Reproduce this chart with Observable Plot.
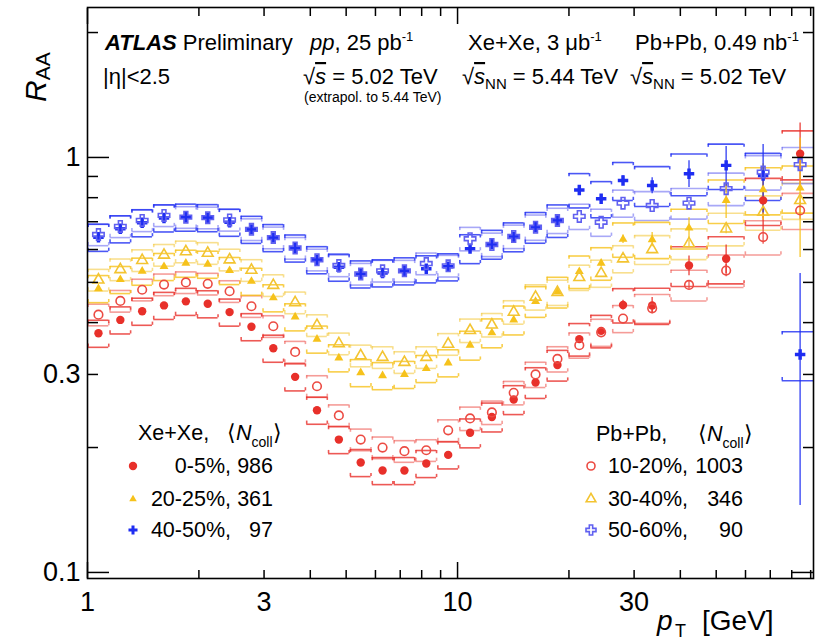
<!DOCTYPE html>
<html><head><meta charset="utf-8">
<script src="https://cdn.jsdelivr.net/npm/d3@7"></script>
<script src="https://cdn.jsdelivr.net/npm/@observablehq/plot@0.6"></script>
<style>
html,body{margin:0;padding:0;background:#fff;}
svg{display:block}
</style>
</head><body><div id="chart"></div>
<script>
// ---- pT bin edges (GeV) ----
const ptEdges = [1.0, 1.146, 1.313, 1.504, 1.723, 1.974, 2.262, 2.591, 2.969, 3.401, 3.896, 4.464, 5.114, 5.859, 6.713, 7.691, 8.811, 10.1, 11.57, 13.25, 15.18, 17.39, 19.93, 22.83, 26.16, 29.97, 37.6, 47.4, 59.7, 75.1, 94.6];

// ---- R_AA values ----
const xe0_5   = [0.377, 0.406, 0.426, 0.440, 0.450, 0.444, 0.424, 0.391, 0.347, 0.296, 0.246, 0.209, 0.184, 0.176, 0.176, 0.183, 0.192, 0.217, 0.237, 0.261, 0.287, 0.316, 0.365, 0.382, 0.441, 0.440, 0.549, 0.570, 0.788, 1.021];
const pb10_20 = [0.418, 0.451, 0.480, 0.494, 0.500, 0.496, 0.476, 0.438, 0.392, 0.340, 0.281, 0.239, 0.209, 0.200, 0.196, 0.197, 0.220, 0.235, 0.243, 0.271, 0.300, 0.327, 0.353, 0.379, 0.409, 0.433, 0.493, 0.534, 0.643, 0.745];
const xe20_25 = [0.483, 0.508, 0.532, 0.546, 0.556, 0.553, 0.534, 0.503, 0.459, 0.413, 0.365, 0.329, 0.303, 0.298, 0.300, 0.310, 0.320, 0.353, 0.378, 0.406, 0.450, 0.474, 0.531, 0.556, 0.635, 0.634, 0.676, 0.788, 0.836, 0.844];
const pb30_40 = [0.507, 0.537, 0.565, 0.582, 0.593, 0.588, 0.567, 0.535, 0.492, 0.447, 0.394, 0.356, 0.333, 0.330, 0.321, 0.330, 0.355, 0.383, 0.395, 0.424, 0.461, 0.473, 0.514, 0.526, 0.570, 0.600, 0.620, 0.673, 0.738, 0.788];
const xe40_50 = [0.642, 0.673, 0.696, 0.715, 0.718, 0.716, 0.698, 0.671, 0.641, 0.605, 0.567, 0.544, 0.524, 0.527, 0.533, 0.539, 0.545, 0.603, 0.618, 0.644, 0.679, 0.705, 0.835, 0.795, 0.880, 0.856, 0.914, 0.957, 0.905, 0.335];
const pb50_60 = [0.652, 0.682, 0.705, 0.725, 0.718, 0.716, 0.707, 0.671, 0.641, 0.605, 0.567, 0.549, 0.524, 0.533, 0.533, 0.555, 0.548, 0.637, 0.617, 0.645, 0.679, 0.705, 0.721, 0.698, 0.776, 0.766, 0.776, 0.841, 0.922, 0.961];

// ---- relative systematic uncertainties ----
const sysXe0_5   = [0.075, 0.075, 0.075, 0.075, 0.075, 0.075, 0.075, 0.075, 0.075, 0.075, 0.075, 0.075, 0.075, 0.075, 0.075, 0.075, 0.075, 0.08, 0.08, 0.08, 0.085, 0.085, 0.09, 0.09, 0.095, 0.10, 0.11, 0.13, 0.13, 0.135];
const sysPb10_20 = [0.06, 0.06, 0.06, 0.06, 0.06, 0.06, 0.06, 0.06, 0.06, 0.06, 0.06, 0.06, 0.06, 0.06, 0.06, 0.06, 0.06, 0.065, 0.065, 0.065, 0.07, 0.07, 0.07, 0.075, 0.075, 0.08, 0.085, 0.09, 0.095, 0.10];
const sysXe20_25 = [0.075, 0.075, 0.075, 0.075, 0.075, 0.075, 0.075, 0.075, 0.075, 0.075, 0.075, 0.075, 0.075, 0.075, 0.075, 0.075, 0.075, 0.08, 0.08, 0.08, 0.085, 0.085, 0.09, 0.09, 0.095, 0.10, 0.11, 0.12, 0.13, 0.13];
const sysPb30_40 = [0.06, 0.06, 0.06, 0.06, 0.06, 0.06, 0.06, 0.06, 0.06, 0.06, 0.06, 0.06, 0.06, 0.06, 0.06, 0.06, 0.06, 0.065, 0.065, 0.065, 0.07, 0.07, 0.07, 0.075, 0.075, 0.08, 0.085, 0.09, 0.095, 0.10];
const sysXe40_50 = [0.075, 0.075, 0.075, 0.075, 0.075, 0.075, 0.075, 0.075, 0.075, 0.075, 0.075, 0.075, 0.075, 0.075, 0.075, 0.075, 0.075, 0.08, 0.08, 0.08, 0.085, 0.09, 0.095, 0.10, 0.105, 0.11, 0.115, 0.125, 0.13, 0.135];
const sysPb50_60 = [0.06, 0.06, 0.06, 0.06, 0.06, 0.06, 0.06, 0.06, 0.06, 0.06, 0.06, 0.06, 0.06, 0.06, 0.06, 0.06, 0.06, 0.065, 0.065, 0.065, 0.07, 0.07, 0.07, 0.075, 0.075, 0.08, 0.085, 0.09, 0.095, 0.10];

// ---- absolute statistical uncertainties ----
const statXe0_5   = [0,0,0,0,0,0,0,0,0,0,0,0,0,0,0,0,0,0,0,0,0,0,0,0, 0.012, 0.02, 0.03, 0.045, 0.12, 0.19];
const statPb10_20 = [0,0,0,0,0,0,0,0,0,0,0,0,0,0,0,0,0,0,0,0,0,0,0,0, 0, 0.01, 0.012, 0.018, 0.025, 0.035];
const statXe20_25 = [0,0,0,0,0,0,0,0,0,0,0,0,0,0,0,0,0,0,0,0,0,0,0, 0.01, 0.015, 0.025, 0.04, 0.075, 0.13, 0.27];
const statPb30_40 = [0,0,0,0,0,0,0,0,0,0,0,0,0,0,0,0,0,0,0,0,0,0,0,0, 0, 0, 0.012, 0.018, 0.025, 0.035];
const statXe40_50 = [0,0,0,0,0,0,0,0,0,0,0,0,0,0,0,0,0,0,0,0,0,0, 0.015, 0.018, 0.024, 0.038, 0.068, 0.105, 0.17, 0.19];
const statPb50_60 = [0,0,0,0,0,0,0,0,0,0,0,0,0,0,0,0,0,0,0,0,0,0,0,0, 0, 0, 0.012, 0.018, 0.025, 0.03];

// ---- legend texts ----
const xeLabels = ["0-5%,", "20-25%,", "40-50%,"];
const xeNcoll  = ["986", "361", "97"];
const pbLabels = ["10-20%,", "30-40%,", "50-60%,"];
const pbNcoll  = ["1003", "346", "90"];

// ---- axis ticks ----
const xMajor = [1, 10];
const xMinor = [2, 3, 4, 5, 6, 7, 8, 9, 20, 30, 40, 50, 60, 70, 80, 90];
const xLabels = [1, 3, 10, 30];
const yMajor = [0.1, 1];
const yMinor = [0.2, 0.3, 0.4, 0.5, 0.6, 0.7, 0.8, 0.9, 2];
const yLabels = [0.1, 0.3, 1];

const RED = "#e8302a", YEL = "#f6c21b", BLU = "#1e2df2";
const RED_O = "#ec4b43", YEL_O = "#f3c431", BLU_O = "#6060f0";

const seriesList = [
  {values: pb10_20, sys: sysPb10_20, stat: statPb10_20, color: RED_O, open: true, symbol: "circle", r: 4.3},
  {values: pb30_40, sys: sysPb30_40, stat: statPb30_40, color: YEL_O, open: true, symbol: "triangle", r: 4.0},
  {values: pb50_60, sys: sysPb50_60, stat: statPb50_60, color: BLU_O, open: true, symbol: "cross", r: 4.8},
  {values: xe0_5,   sys: sysXe0_5,   stat: statXe0_5,   color: RED, open: false, symbol: "circle", r: 4.2},
  {values: xe20_25, sys: sysXe20_25, stat: statXe20_25, color: YEL, open: false, symbol: "triangle", r: 3.3},
  {values: xe40_50, sys: sysXe40_50, stat: statXe40_50, color: BLU, open: false, symbol: "cross", r: 4.4}
];

const TICK = 1.018;   // bracket end length (log factor)
const INSET = 1.004;  // small horizontal inset of brackets

const rowsOf = s => s.values.map((v, i) => ({
  v, lo: ptEdges[i], hi: ptEdges[i + 1], pt: Math.sqrt(ptEdges[i] * ptEdges[i + 1]),
  sys: s.sys[i], stat: s.stat[i]
}));

const boxMarks = [], statMarks = [], openDots = [], filledDots = [];
for (const s of seriesList) {
  const rows = rowsOf(s);
  const top = d => d.v * (1 + d.sys), bot = d => d.v * (1 - d.sys);
  const L = d => d.lo * INSET, R = d => d.hi / INSET;
  const st = {stroke: s.color, strokeWidth: 1.6, strokeOpacity: s.open ? 0.55 : 0.8, clip: true};
  boxMarks.push(
    Plot.ruleY(rows, {y: top, x1: L, x2: R, ...st}),
    Plot.ruleY(rows, {y: bot, x1: L, x2: R, ...st}),
    Plot.ruleX(rows, {x: L, y1: top, y2: d => top(d) / TICK, ...st}),
    Plot.ruleX(rows, {x: R, y1: top, y2: d => top(d) / TICK, ...st}),
    Plot.ruleX(rows, {x: L, y1: bot, y2: d => bot(d) * TICK, ...st}),
    Plot.ruleX(rows, {x: R, y1: bot, y2: d => bot(d) * TICK, ...st})
  );
  statMarks.push(Plot.ruleX(rows.filter(d => d.stat > 0), {
    x: "pt", y1: d => d.v - d.stat, y2: d => d.v + d.stat,
    stroke: s.color, strokeWidth: 1.6, strokeOpacity: 0.75, clip: true
  }));
  const dot = Plot.dot(rows, {
    x: "pt", y: "v", symbol: s.symbol, r: s.r,
    fill: s.open ? "none" : s.color, stroke: s.open ? s.color : "none", strokeWidth: 1.6, clip: true
  });
  (s.open ? openDots : filledDots).push(dot);
}

const blank = () => "";
const axisMarks = [
  Plot.axisX(xMajor, {anchor: "bottom", tickSize: -16, tickFormat: blank, strokeWidth: 1.5, label: null}),
  Plot.axisX(xMinor, {anchor: "bottom", tickSize: -8, tickFormat: blank, strokeWidth: 1.5, label: null}),
  Plot.axisX(xMajor, {anchor: "top", tickSize: -16, tickFormat: blank, strokeWidth: 1.5, label: null}),
  Plot.axisX(xMinor, {anchor: "top", tickSize: -8, tickFormat: blank, strokeWidth: 1.5, label: null}),
  Plot.axisX(xLabels, {anchor: "bottom", tickSize: 0, tickPadding: 13, tickFormat: d => String(d), fontSize: 27, label: null}),
  Plot.axisY(yMajor, {anchor: "left", tickSize: -22, tickFormat: blank, strokeWidth: 1.5, label: null}),
  Plot.axisY(yMinor, {anchor: "left", tickSize: -11, tickFormat: blank, strokeWidth: 1.5, label: null}),
  Plot.axisY(yMajor, {anchor: "right", tickSize: -22, tickFormat: blank, strokeWidth: 1.5, label: null}),
  Plot.axisY(yMinor, {anchor: "right", tickSize: -11, tickFormat: blank, strokeWidth: 1.5, label: null}),
  Plot.axisY(yLabels, {anchor: "left", tickSize: 0, tickPadding: 7, tickFormat: d => String(d), fontSize: 27, label: null})
];

const chart = Plot.plot({
  width: 818, height: 641,
  marginLeft: 87, marginRight: 5, marginTop: 7, marginBottom: 63,
  x: {type: "log", domain: [1, 91.6]},
  y: {type: "log", domain: [0.0967, 2.298]},
  style: {fontFamily: "'Liberation Sans', Arial, Helvetica, sans-serif", fontSize: "27px", color: "black", background: "white"},
  marks: [
    ...boxMarks,
    ...statMarks,
    ...filledDots,
    ...openDots,
    ...axisMarks,
    Plot.frame({stroke: "black", strokeWidth: 1.6})
  ]
});
document.getElementById("chart").appendChild(chart);

// ---- annotations ----
const FONT = "'Liberation Sans', Arial, Helvetica, sans-serif";
const svg = d3.select(chart);
function rich(x, y, parts, {size = 22, anchor = "start", rotate = null} = {}) {
  const t = svg.append("text").attr("x", x).attr("y", y).attr("font-size", size)
    .attr("text-anchor", anchor).attr("fill", "black").attr("font-family", FONT);
  if (rotate != null) t.attr("transform", `rotate(${rotate},${x},${y})`);
  for (const p of parts) {
    const s = t.append("tspan").text(p.t);
    if (p.i) s.attr("font-style", "italic");
    if (p.b) s.attr("font-weight", "bold");
    if (p.s) s.attr("font-size", p.s);
    if (p.dy) s.attr("dy", p.dy);
    if (p.dx) s.attr("dx", p.dx);
    if (p.o) s.attr("text-decoration", "overline");
  }
  return t;
}
rich(105, 50, [{t: "ATLAS", b: 1, i: 1}, {t: " Preliminary"}]);
rich(310, 50, [{t: "pp", i: 1}, {t: ", 25 pb"}, {t: "-1", s: 13, dy: -9}]);
rich(468, 50, [{t: "Xe+Xe, 3 μb"}, {t: "-1", s: 13, dy: -9}]);
rich(635, 50, [{t: "Pb+Pb, 0.49 nb"}, {t: "-1", s: 13, dy: -9}]);
rich(103, 84, [{t: "|η|<2.5"}]);
rich(303, 84, [{t: "√"}, {t: "s", i: 1, o: 1}, {t: " = 5.02 TeV"}]);
rich(304, 102, [{t: "(extrapol. to 5.44 TeV)"}], {size: 14});
rich(462, 84, [{t: "√"}, {t: "s", i: 1, o: 1}, {t: "NN", s: 15, dy: 5}, {t: " = 5.44 TeV", dy: -5}]);
rich(630, 84, [{t: "√"}, {t: "s", i: 1, o: 1}, {t: "NN", s: 15, dy: 5}, {t: " = 5.02 TeV", dy: -5}]);

// axis titles
rich(46, 102, [{t: "R", i: 1}, {t: "AA", s: 21, dy: 4}], {size: 30, rotate: -90});
rich(657, 630, [{t: "p", i: 1}], {size: 28});
rich(675, 637, [{t: "T"}], {size: 18});
rich(702, 630, [{t: "[GeV]"}], {size: 28});

// legends
const LS = 21.5;
rich(138, 440, [{t: "Xe+Xe,"}], {size: LS});
rich(227, 440, [{t: "⟨"}, {t: "N", i: 1}, {t: "coll", s: 14, dy: 7}, {t: "⟩", dy: -7}], {size: LS});
rich(596, 441, [{t: "Pb+Pb,"}], {size: LS});
rich(698, 441, [{t: "⟨"}, {t: "N", i: 1}, {t: "coll", s: 14, dy: 7}, {t: "⟩", dy: -7}], {size: LS});
const rowsY = [473, 506, 537];
const symY = [466, 499, 530];
const xeSyms = [[d3.symbolCircle, 4.2, RED], [d3.symbolTriangle, 2.8, YEL], [d3.symbolCross, 3.8, BLU]];
const pbSyms = [[d3.symbolCircle, 4.0, RED_O], [d3.symbolTriangle, 3.6, YEL_O], [d3.symbolCross, 4.2, BLU_O]];
xeLabels.forEach((lab, i) => {
  rich(231, rowsY[i], [{t: lab}], {size: LS, anchor: "end"});
  rich(273, rowsY[i], [{t: xeNcoll[i]}], {size: LS, anchor: "end"});
  const [sym, r, c] = xeSyms[i];
  svg.append("path").attr("d", d3.symbol(sym, Math.PI * r * r)()).attr("transform", `translate(133,${symY[i]})`).attr("fill", c);
});
pbLabels.forEach((lab, i) => {
  rich(688, rowsY[i], [{t: lab}], {size: LS, anchor: "end"});
  rich(743, rowsY[i], [{t: pbNcoll[i]}], {size: LS, anchor: "end"});
  const [sym, r, c] = pbSyms[i];
  svg.append("path").attr("d", d3.symbol(sym, Math.PI * r * r)()).attr("transform", `translate(591,${symY[i]})`)
    .attr("fill", "none").attr("stroke", c).attr("stroke-width", 1.6);
});
</script>
</body></html>
